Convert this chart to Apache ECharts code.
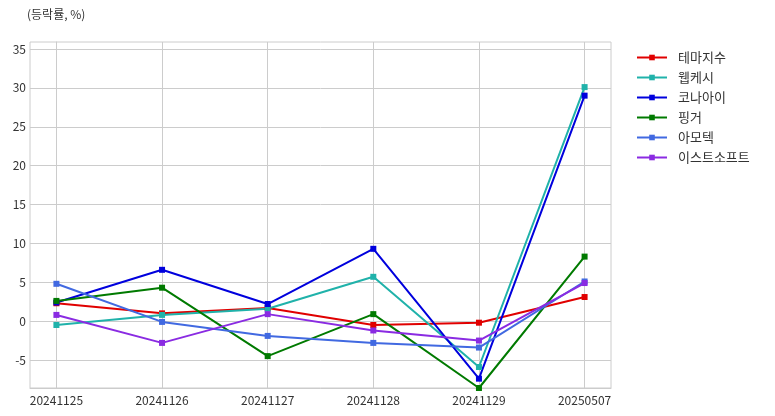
<!DOCTYPE html>
<html><head><meta charset="utf-8">
<script src="https://cdn.jsdelivr.net/npm/echarts@6/dist/echarts.min.js"></script>
<style>html,body{margin:0;padding:0;background:#fff}#c{width:775px;height:416px}</style>
</head><body><div id="c"></div>
<script>
const categories = ['20241125','20241126','20241127','20241128','20241129','20250507'];
const seriesNames = ['테마지수','웹케시','코나아이','핑거','아모텍','이스트소프트'];
const themeIdx = [2.3, 1.0, 1.7, -0.5, -0.2, 3.1];
const webcash = [-0.5, 0.8, 1.6, 5.7, -5.9, 30.1];
const konai = [2.4, 6.6, 2.2, 9.3, -7.4, 29.0];
const finger = [2.6, 4.3, -4.5, 0.9, -8.6, 8.3];
const amotech = [4.8, -0.1, -1.9, -2.8, -3.4, 5.1];
const estsoft = [0.8, -2.8, 0.9, -1.2, -2.5, 4.9];
const yTicks = [-5, 0, 5, 10, 15, 20, 25, 30, 35];
const colors = ['#e00000', '#20b2aa', '#0000dd', '#007a00', '#4169e1', '#8a2be2'];
const allData = [themeIdx, webcash, konai, finger, amotech, estsoft];
const font = '"Noto Sans CJK KR", "Noto Sans", sans-serif';

const chart = echarts.init(document.getElementById('c'));
chart.setOption({
  animation: false,
  color: colors,
  textStyle: { fontFamily: font },
  title: { text: '(등락률, %)', left: 22, top: 3, textStyle: { fontSize: 12, fontWeight: 'normal', color: '#333', fontFamily: font } },
  legend: {
    orient: 'vertical', left: 631, top: 46, itemGap: 7, itemWidth: 30, itemHeight: 7,
    textStyle: { fontSize: 13, color: '#333', fontFamily: font, padding: [0, 0, 0, 6] },
    data: seriesNames
  },
  grid: { left: 30, right: 164, top: 42, bottom: 28, show: true, borderColor: '#ccc', borderWidth: 1 },
  xAxis: {
    type: 'value', min: -0.25, max: 5.25,
    axisLine: { show: true, onZero: false, lineStyle: { color: '#ccc' } },
    axisTick: { show: false, customValues: [0,1,2,3,4,5] },
    axisLabel: { customValues: [0,1,2,3,4,5], formatter: v => categories[Math.round(v)], color: '#333', fontSize: 12, margin: 6, fontFamily: font },
    splitLine: { show: true, lineStyle: { color: '#ccc' } }
  },
  yAxis: {
    type: 'value', min: -8.6, max: 35.9,
    axisLine: { show: true, lineStyle: { color: '#ccc' } },
    axisTick: { show: false, customValues: yTicks },
    axisLabel: { customValues: yTicks, color: '#333', fontSize: 12, margin: 4, fontFamily: font },
    splitLine: { show: true, lineStyle: { color: '#ccc' } }
  },
  series: seriesNames.map((n, i) => ({
    name: n, type: 'line', symbol: 'rect', symbolSize: 6,
    lineStyle: { width: 2 },
    data: allData[i].map((v, j) => [j, v])
  }))
});
</script></body></html>
